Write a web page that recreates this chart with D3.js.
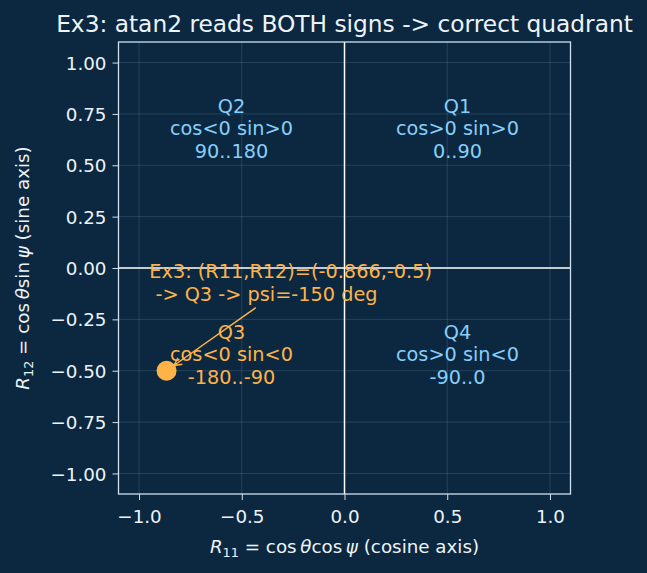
<!DOCTYPE html>
<html>
<head>
<meta charset="utf-8">
<script src="https://cdn.jsdelivr.net/npm/d3@7"></script>
<style>
  body { margin: 0; background: #0b2840; }
  svg { display: block; }
  text { font-family: "DejaVu Sans", sans-serif; }
</style>
</head>
<body>
<div id="app"></div>
<script>
const xTicks = [-1, -0.5, 0, 0.5, 1]
const yTicks = [-1, -0.75, -0.5, -0.25, 0, 0.25, 0.5, 0.75, 1]

// quadrant labels (anchor in data units)
const quadNames = ["Q1", "Q2", "Q3", "Q4"]
const quadSigns = ["cos>0 sin>0", "cos<0 sin>0", "cos<0 sin<0", "cos>0 sin<0"]
const quadRanges = ["0..90", "90..180", "-180..-90", "-90..0"]
const quadX = [0.55, -0.55, -0.55, 0.55]
const quadY = [0.65, 0.65, -0.45, -0.45]
const highlighted = "Q3"

// the example point and its note
const pointR11 = -0.866
const pointR12 = -0.5
const noteLines = ["Ex3: (R11,R12)=(-0.866,-0.5)", " -> Q3 -> psi=-150 deg"]
const noteXY = [-0.95, -0.1]

const W = 647, H = 573
const blue = "#87cefa", orange = "#ffb347", spine = "#cfe0f0", ink = "#eef3f8"
const lineH = 22.4

const fx = d3.scaleLinear().domain([-1.1, 1.1]).range([118.5, 570.5])
const fy = d3.scaleLinear().domain([-1.1, 1.1]).range([494, 42])

const svg = d3.select("#app").append("svg")
  .attr("width", W)
  .attr("height", H)

svg.append("rect").attr("width", W).attr("height", H).attr("fill", "#0b2840")

// grid
svg.append("g")
  .attr("stroke", "#9ec3e6")
  .attr("stroke-opacity", 0.22)
  .attr("stroke-width", 0.8)
  .call(g => g.selectAll(".vx").data(xTicks).join("line")
    .attr("x1", d => fx(d)).attr("x2", d => fx(d))
    .attr("y1", fy.range()[0]).attr("y2", fy.range()[1]))
  .call(g => g.selectAll(".hy").data(yTicks).join("line")
    .attr("x1", fx.range()[0]).attr("x2", fx.range()[1])
    .attr("y1", d => fy(d)).attr("y2", d => fy(d)))

// zero lines
svg.append("line")
  .attr("x1", fx.range()[0]).attr("x2", fx.range()[1])
  .attr("y1", fy(0)).attr("y2", fy(0))
  .attr("stroke", "white").attr("stroke-width", 1.5)
svg.append("line")
  .attr("x1", fx(0)).attr("x2", fx(0))
  .attr("y1", fy.range()[0]).attr("y2", fy.range()[1])
  .attr("stroke", "white").attr("stroke-width", 1.5)

// axes
const gx = svg.append("g")
  .attr("transform", `translate(0,${fy.range()[0]})`)
  .call(d3.axisBottom(fx).tickValues(xTicks).tickFormat(d3.format(".1f")).tickSize(6))
gx.selectAll("text").attr("dy", 0).attr("y", 29)

const gy = svg.append("g")
  .attr("transform", `translate(${fx.range()[0]},0)`)
  .call(d3.axisLeft(fy).tickValues(yTicks).tickFormat(d3.format(".2f")).tickSize(6))
gy.selectAll("text").attr("x", -12).attr("dy", "0.36em")

for (const g of [gx, gy]) {
  g.select(".domain").remove()
  g.selectAll("line").attr("stroke", spine).attr("stroke-width", 1)
  g.selectAll("text").attr("fill", ink).attr("font-size", 18.3)
    .attr("font-family", "DejaVu Sans")
}

// spines
svg.append("rect")
  .attr("x", fx.range()[0]).attr("y", fy.range()[1])
  .attr("width", fx.range()[1] - fx.range()[0])
  .attr("height", fy.range()[0] - fy.range()[1])
  .attr("fill", "none").attr("stroke", spine).attr("stroke-width", 1.3)

// quadrant labels
quadNames.forEach((q, i) => {
  const lines = [q, quadSigns[i], quadRanges[i]]
  svg.append("text")
    .attr("text-anchor", "middle")
    .attr("font-size", 19.3)
    .attr("fill", q === highlighted ? orange : blue)
    .selectAll("tspan").data(lines).join("tspan")
      .attr("x", fx(quadX[i]))
      .attr("y", (d, j) => fy(quadY[i]) + 1 + (j - 1) * lineH)
      .text(d => d)
})

// point
svg.append("circle")
  .attr("cx", fx(pointR11)).attr("cy", fy(pointR12))
  .attr("r", 10).attr("fill", orange)

// note
const note = svg.append("text")
  .attr("font-size", 19.3)
  .attr("fill", orange)
  .attr("xml:space", "preserve")
  .style("white-space", "pre")
note.selectAll("tspan").data(noteLines).join("tspan")
  .attr("x", fx(noteXY[0]))
  .attr("y", (d, j) => fy(noteXY[1]) + 1 + (j - (noteLines.length - 1) / 2) * lineH)
  .text(d => d)

// arrow from note box edge to point
const bb = note.node().getBBox()
const cx = bb.x + bb.width / 2, cy = bb.y + bb.height / 2
const px = fx(pointR11), py = fy(pointR12)
const dxl = px - cx, dyl = py - cy
const len = Math.hypot(dxl, dyl)
const ux = dxl / len, uy = dyl / len
const tEdge = Math.min(Math.abs(bb.width / 2 / dxl), Math.abs(bb.height / 2 / dyl)) * len
const sx = cx + ux * (tEdge + 3.3), sy = cy + uy * (tEdge + 3.3)
const ex = px - ux * 9, ey = py - uy * 9
const hl = 7.7, hw = 3.9
svg.append("path")
  .attr("d", `M${sx},${sy}L${ex},${ey}` +
    `M${ex - ux * hl - uy * hw},${ey - uy * hl + ux * hw}L${ex},${ey}` +
    `L${ex - ux * hl + uy * hw},${ey - uy * hl - ux * hw}`)
  .attr("fill", "none").attr("stroke", orange).attr("stroke-width", 1.4)

// title
svg.append("text")
  .attr("x", (fx.range()[0] + fx.range()[1]) / 2).attr("y", 32)
  .attr("text-anchor", "middle").attr("font-size", 23.3).attr("fill", ink)
  .text("Ex3: atan2 reads BOTH signs -> correct quadrant")

// axis labels with math
function mathLabel(sel, sub, fn) {
  sel.attr("font-size", 18.3).attr("fill", ink).attr("text-anchor", "middle")
  sel.append("tspan").attr("font-style", "italic").text("R")
  sel.append("tspan").attr("font-size", 12.8).attr("dy", 4).text(sub)
  sel.append("tspan").attr("dy", -4).text(" = cos\u2009")
  sel.append("tspan").attr("font-style", "italic").text("\u03b8")
  sel.append("tspan").text(fn + "\u2009")
  sel.append("tspan").attr("font-style", "italic").text("\u03c8")
  return sel
}
mathLabel(svg.append("text")
  .attr("x", (fx.range()[0] + fx.range()[1]) / 2).attr("y", 553), "11", "cos")
  .append("tspan").text(" (cosine axis)")

mathLabel(svg.append("text")
  .attr("transform", `translate(29,${fy(0)}) rotate(-90)`), "12", "sin")
  .append("tspan").text(" (sine axis)")
</script>
</body>
</html>
